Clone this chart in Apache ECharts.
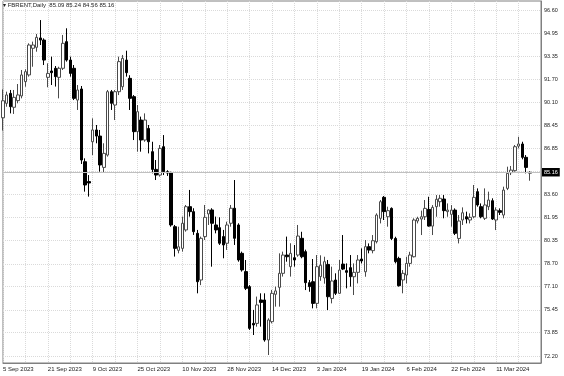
<!DOCTYPE html>
<html>
<head>
<meta charset="utf-8">
<script src="https://cdn.jsdelivr.net/npm/echarts@6/dist/echarts.min.js"></script>
<style>html,body{margin:0;padding:0;background:#fff;}#c{width:564px;height:376px;}</style>
</head>
<body>
<div id="c"></div>
<script>
// Daily bars, 5 Sep 2023 .. Mar 2024
const opens = [89.0,90.02,90.72,89.74,90.21,90.54,91.55,92.02,93.90,93.97,94.63,94.48,91.85,92.30,92.49,91.85,92.49,94.37,93.07,92.49,
90.25,91.03,85.90,84.50,87.31,88.14,87.71,85.50,86.37,90.84,89.90,90.84,91.19,93.07,91.78,90.49,88.02,88.84,87.43,88.25,
86.61,85.36,84.96,86.96,85.20,85.13,81.32,79.65,79.79,81.09,82.73,82.38,80.85,77.56,80.62,82.22,82.50,81.44,81.25,80.62,
80.15,81.56,82.62,81.44,79.44,78.15,77.09,74.50,74.50,76.15,76.15,73.33,74.62,76.55,77.04,78.03,79.32,78.50,79.13,79.32,
80.50,79.56,77.37,77.44,75.91,77.80,77.70,78.66,76.26,77.56,76.62,78.68,78.22,78.43,77.79,78.10,79.04,78.14,79.91,79.63,
80.26,81.91,83.39,82.02,82.61,80.49,79.08,77.56,77.91,78.73,79.20,81.72,81.86,82.02,82.54,81.36,82.73,83.08,83.27,82.38,
82.19,82.49,80.49,81.79,82.02,81.79,82.02,83.79,82.73,81.91,82.73,83.15,81.79,82.45,82.14,84.02,85.13,85.27,87.00,87.15,
86.21,85.09];
const highs = [91.0,90.84,90.96,90.96,91.38,92.37,92.42,94.25,94.37,94.91,95.89,94.60,92.84,93.31,92.65,92.60,94.84,95.31,93.31,92.72,
91.31,91.24,86.14,84.96,88.96,88.49,88.14,87.20,90.96,90.96,90.96,93.31,93.43,93.73,92.00,90.60,89.90,89.08,89.31,88.49,
87.31,86.02,87.08,87.78,85.30,85.20,81.44,81.32,82.03,82.85,83.91,82.62,81.09,80.62,82.85,82.55,82.62,82.03,81.98,81.09,
81.67,82.85,84.61,81.56,79.56,78.97,77.20,75.45,76.39,76.62,76.62,74.86,76.86,77.09,79.44,79.56,80.62,80.15,80.03,81.44,
80.96,79.70,77.56,79.04,79.32,79.30,79.20,78.97,78.50,78.03,78.97,80.73,78.73,79.32,78.73,79.32,79.79,80.38,80.14,80.73,
82.26,83.20,83.48,82.73,82.68,80.61,79.20,78.26,79.20,79.55,81.91,82.02,82.45,83.20,83.43,82.84,83.55,83.55,83.55,82.96,
82.84,82.61,82.14,82.68,82.38,82.26,84.26,84.02,82.96,84.02,83.79,83.32,82.68,82.61,84.14,85.55,85.60,87.08,87.66,87.31,
86.37,85.24];
const lows = [88.1,89.78,89.31,89.27,90.02,90.37,91.19,91.90,92.60,93.66,94.13,92.72,91.15,91.31,91.20,90.37,92.37,92.96,91.90,90.25,
89.55,85.74,83.79,83.44,86.37,87.20,85.20,85.13,86.26,89.55,88.84,90.60,90.96,91.90,89.55,87.43,86.61,86.61,87.31,86.49,
85.08,84.61,84.85,84.96,84.90,81.32,79.21,79.44,79.56,80.97,82.03,80.74,76.62,77.20,80.38,81.44,78.50,80.85,80.03,79.09,
79.68,81.32,80.03,78.85,78.15,76.85,74.04,73.68,74.27,74.27,73.21,72.27,74.50,75.68,75.68,77.80,78.85,77.80,78.50,79.20,
79.09,76.85,76.73,75.56,75.56,77.50,77.30,75.44,75.91,76.50,76.60,78.26,76.97,77.09,76.50,77.32,78.73,77.79,79.44,79.44,
80.14,81.55,81.79,81.32,80.38,78.73,77.09,76.62,77.32,78.50,79.15,81.55,80.73,81.79,81.32,80.73,82.02,82.73,81.91,82.02,
81.32,80.73,80.14,81.44,81.55,81.55,81.91,82.73,81.91,81.79,82.49,81.79,81.08,82.14,81.91,83.90,84.96,85.20,86.84,86.07,
85.08,84.56];
const closes = [90.2,90.61,89.78,90.44,90.61,92.02,92.25,94.13,94.13,94.67,94.48,93.07,92.13,92.18,91.90,92.49,94.25,93.07,92.13,90.37,
90.96,86.02,84.26,84.40,88.14,87.71,85.67,86.49,90.84,90.02,90.84,92.96,93.19,92.18,90.37,88.02,89.43,87.43,88.84,87.31,
85.36,84.96,86.84,85.20,85.10,81.44,79.79,79.90,81.56,82.73,82.38,80.97,77.44,80.50,81.98,82.50,81.56,81.09,80.15,80.03,
81.44,82.62,80.50,78.97,78.27,76.97,74.15,74.39,75.80,75.98,73.33,74.74,76.62,76.79,78.03,79.32,79.20,79.44,78.97,80.66,
79.20,77.37,77.09,75.91,78.50,78.60,78.85,76.38,77.49,76.62,78.26,78.33,78.10,77.79,78.10,78.97,78.90,79.91,79.67,80.33,
82.14,83.08,82.38,82.45,80.49,78.85,77.16,78.03,78.73,79.32,81.79,81.91,82.02,82.61,81.36,82.68,83.25,83.32,82.45,82.49,
82.49,80.85,81.72,82.30,81.86,81.98,83.39,82.85,82.02,82.85,83.20,81.86,82.49,82.33,83.90,85.08,85.31,86.96,87.15,86.21,
85.50,85.16];

// Date labels shown every 12 bars
const xTickLabels = ["5 Sep 2023","21 Sep 2023","9 Oct 2023","25 Oct 2023","10 Nov 2023","28 Nov 2023",
  "14 Dec 2023","3 Jan 2024","19 Jan 2024","6 Feb 2024","22 Feb 2024","11 Mar 2024"];
// Price scale labels
const yTickLabels = ["72.20","73.85","75.45","77.10","78.70","80.35","81.95","83.60","85.20","86.85",
  "88.45","90.10","91.70","93.35","94.95","96.60"];
const symbolName = "FBRENT,Daily";

const BARS_PER_LABEL = 12;
const SLOTS = 145; // bar slots across the chart (incl. empty space on the right)
const categories = [];
for (let i = 0; i < SLOTS; i++) {
  categories.push(i % BARS_PER_LABEL === 0 && xTickLabels[i / BARS_PER_LABEL] ? xTickLabels[i / BARS_PER_LABEL] : '');
}
const candleData = opens.map((o, i) => [o, closes[i], lows[i], highs[i]]);
const n = opens.length - 1;
const last = closes[n];
const yTickValues = yTickLabels.map(Number);

const chart = echarts.init(document.getElementById('c'), null, {renderer: 'canvas'});
const fontFam = '"Liberation Sans", Arial, sans-serif';
chart.setOption({
  animation: false,
  backgroundColor: '#ffffff',
  title: {
    text: '\u25BE ' + symbolName + '  ' + opens[n].toFixed(2) + ' ' + highs[n].toFixed(2) + ' ' + lows[n].toFixed(2) + ' ' + closes[n].toFixed(2),
    left: 3, top: 2, padding: 0,
    textStyle: {fontSize: 6, fontWeight: 'normal', color: '#222', fontFamily: fontFam}
  },
  grid: {left: 1, top: 1, right: 23, bottom: 13, show: true, borderColor: '#808080', borderWidth: 1, backgroundColor: 'transparent'},
  xAxis: {
    type: 'category',
    data: categories,
    boundaryGap: false,
    axisLine: {show: true, lineStyle: {color: '#808080'}},
    axisTick: {show: false},
    axisLabel: {interval: 0, align: 'left', fontSize: 6, color: '#222', margin: 3, fontFamily: fontFam},
    splitLine: {show: true, interval: 5, lineStyle: {type: 'dotted', color: '#dadada', width: 1}}
  },
  yAxis: {
    type: 'value',
    position: 'right',
    min: 71.706,
    max: 97.235,
    axisLine: {show: true, lineStyle: {color: '#808080'}},
    axisTick: {show: false, customValues: yTickValues},
    axisLabel: {customValues: yTickValues, formatter: v => v.toFixed(2), fontSize: 5.5, color: '#222', margin: 3, fontFamily: fontFam},
    splitLine: {show: true, lineStyle: {type: 'dotted', color: '#dadada', width: 1}}
  },
  series: [{
    type: 'candlestick',
    data: candleData,
    barWidth: 3,
    itemStyle: {color: '#ffffff', color0: '#000000', borderColor: '#4a4a4a', borderColor0: '#000000', borderWidth: 1},
    markLine: {
      silent: true,
      symbol: ['none', 'none'],
      animation: false,
      lineStyle: {color: '#c0c0c0', type: 'solid', width: 1},
      label: {show: true, position: 'end', distance: 1, formatter: last.toFixed(2), backgroundColor: '#000', color: '#fff',
        fontSize: 5.5, padding: [1.5, 2, 1, 2], fontFamily: fontFam},
      data: [{yAxis: last}]
    }
  }]
});
</script>
</body>
</html>
